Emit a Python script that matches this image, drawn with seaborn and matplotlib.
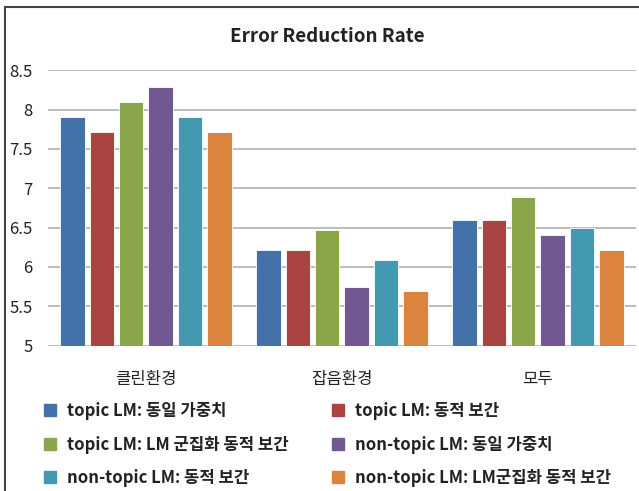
import matplotlib
matplotlib.use("Agg")
import matplotlib.pyplot as plt
from matplotlib.patches import Rectangle
from matplotlib.lines import Line2D
import seaborn as sns
import pandas as pd

categories = ["클린환경", "잡음환경", "모두"]
series_names = [
    "topic LM: 동일 가중치",
    "topic LM: 동적 보간",
    "topic LM: LM 군집화 동적 보간",
    "non-topic LM: 동일 가중치",
    "non-topic LM: 동적 보간",
    "non-topic LM: LM군집화 동적 보간",
]
values = {
    "topic LM: 동일 가중치": [7.90, 6.21, 6.60],
    "topic LM: 동적 보간": [7.72, 6.21, 6.60],
    "topic LM: LM 군집화 동적 보간": [8.09, 6.47, 6.89],
    "non-topic LM: 동일 가중치": [8.29, 5.75, 6.41],
    "non-topic LM: 동적 보간": [7.90, 6.09, 6.50],
    "non-topic LM: LM군집화 동적 보간": [7.72, 5.69, 6.21],
}
colors = ["#4472A8", "#A94442", "#8AA54A", "#725890", "#4299B0", "#DB843D"]
yticks = [5, 5.5, 6, 6.5, 7, 7.5, 8, 8.5]
ytick_labels = ["5", "5.5", "6", "6.5", "7", "7.5", "8", "8.5"]

rows = []
for s in series_names:
    for c, v in zip(categories, values[s]):
        rows.append({"category": c, "series": s, "value": v})
df = pd.DataFrame(rows)

sns.set_style("white")
plt.rcParams["font.family"] = ["Noto Sans CJK KR", "DejaVu Sans"]

fig = plt.figure(figsize=(6.39, 4.91), dpi=100)
ax = fig.add_axes([0.075, 0.296, 0.92, 0.561])

sns.barplot(data=df, x="category", y="value", hue="series", hue_order=series_names,
            order=categories, palette=colors, saturation=1, width=0.9, gap=0.17,
            edgecolor="white", linewidth=0.6, ax=ax, legend=False, zorder=3)

ax.set_ylim(5, 8.5)
ax.set_xlim(-0.5, 2.5)
ax.set_yticks(yticks)
ax.set_yticklabels(ytick_labels, fontsize=12, color="#222222")
ax.tick_params(axis="x", labelsize=12, colors="#222222", length=0, pad=18)
ax.tick_params(axis="y", length=0, pad=11)
ax.set_xlabel("")
ax.set_ylabel("")
ax.yaxis.grid(True, color="#B0B0B0", linewidth=1.2, zorder=0)
ax.set_axisbelow(True)
for sp in ax.spines.values():
    sp.set_visible(False)

fig.text(0.512, 0.925, "Error Reduction Rate", ha="center", va="center",
         fontsize=13.5, fontweight="bold", color="#222222")

handles = [Line2D([0], [0], marker="s", linestyle="none", markersize=9,
                  markerfacecolor=c, markeredgecolor=c) for c in colors]
order = [0, 2, 4, 1, 3, 5]
leg = fig.legend([handles[i] for i in order], [series_names[i] for i in order],
                 ncol=2, loc="upper left", bbox_to_anchor=(0.068, 0.181),
                 frameon=False, fontsize=12, handlelength=0.8, handletextpad=0.6,
                 columnspacing=2.6, labelspacing=0.93, borderaxespad=0, borderpad=0)
for t in leg.get_texts():
    t.set_fontweight("bold")
    t.set_color("#222222")

fig.patches.append(Rectangle((5 / 639, -0.05), 1.2, 1 - 7 / 491 + 0.05,
                             transform=fig.transFigure, fill=False,
                             edgecolor="#444444", linewidth=1.5))

fig.savefig("out.png", dpi=100)
